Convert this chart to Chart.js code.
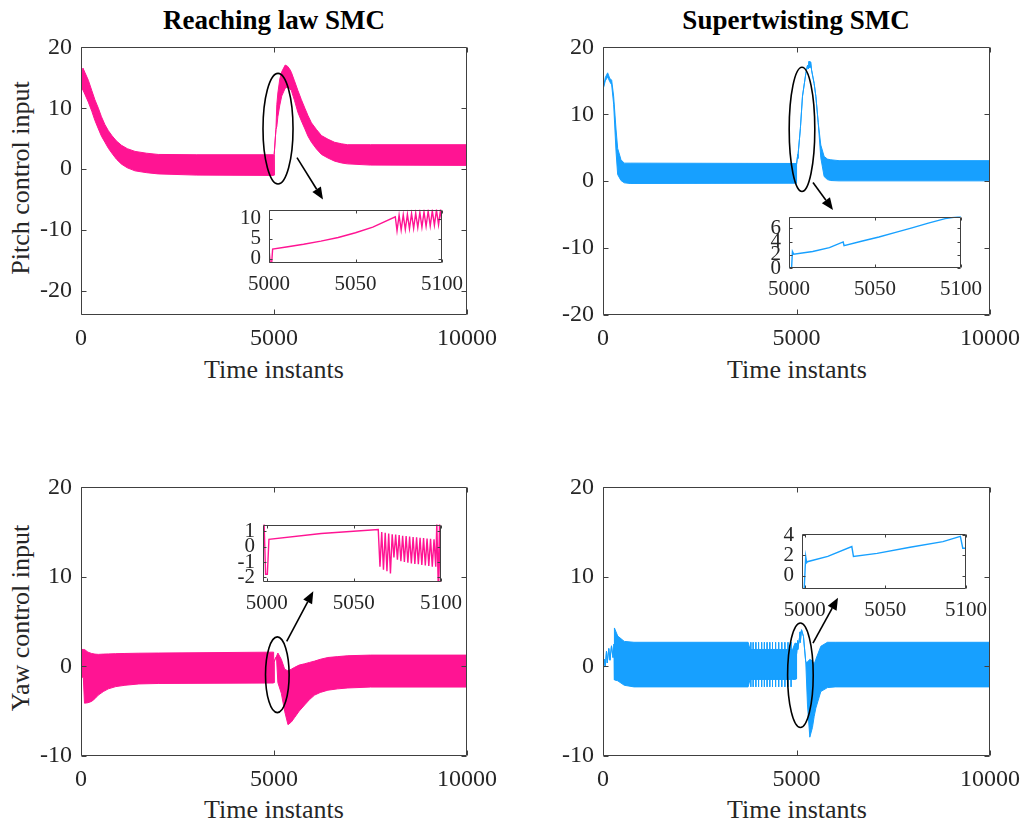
<!DOCTYPE html>
<html lang="en">
<head>
<meta charset="UTF-8" />
<title>Reaching law SMC vs Supertwisting SMC</title>
<script src="https://cdn.jsdelivr.net/npm/chart.js"></script>
<style>
  html, body { margin: 0; padding: 0; background: #fff; }
  #fig {
    position: relative;
    width: 1030px;
    height: 823px;
    overflow: hidden;
    font-family: 'Liberation Serif', 'Times New Roman', serif;
    color: #262626;
  }
  #fig canvas { position: absolute; }
  .lbl {
    position: absolute;
    transform: translate(-50%, -50%);
    white-space: nowrap;
    font-size: 26px;
    line-height: 1;
  }
  .ttl { font-weight: bold; font-size: 27px; color: #000; }
  .rot { transform: translate(-50%, -50%) rotate(-90deg); }
</style>
</head>
<body>
<div id="fig">
  <div class="lbl ttl" style="left:274px;top:20px">Reaching law SMC</div>
  <div class="lbl ttl" style="left:796px;top:20px">Supertwisting SMC</div>
  <div class="lbl" style="left:274px;top:370px">Time instants</div>
  <div class="lbl" style="left:797px;top:370px">Time instants</div>
  <div class="lbl" style="left:274px;top:810px">Time instants</div>
  <div class="lbl" style="left:797px;top:810px">Time instants</div>
  <div class="lbl rot" style="left:21px;top:178px">Pitch control input</div>
  <div class="lbl rot" style="left:21px;top:618px">Yaw control input</div>
</div>

<script>
// ---- data ----
// main plots: chattering band given as upper / lower envelope
const rlPitchT  = [0, 50, 100, 190, 280, 360, 450, 530, 620, 710, 800, 920, 1050, 1200, 1400, 1700, 2000, 3000, 4990, 5000, 5005, 5050, 5073, 5100, 5150, 5200, 5290, 5350, 5400, 5450, 5530, 5620, 5710, 5800, 5880, 5970, 6100, 6230, 6400, 6570, 6750, 6900, 7500, 10000];
const rlPitchHi = [15.0, 16.6, 15.9, 14.6, 12.9, 11.4, 10.0, 8.6, 7.3, 6.3, 5.5, 4.6, 3.9, 3.35, 2.9, 2.6, 2.4, 2.35, 2.35, -1.0, 2.4, 6.5, 10.6, 12.5, 14.8, 16.0, 17.1, 16.9, 16.5, 15.9, 14.5, 12.9, 11.4, 10.0, 8.8, 7.6, 6.5, 5.5, 4.9, 4.4, 4.15, 4.0, 4.0, 4.0];
const rlPitchLo = [13.3, 13.0, 12.3, 11.0, 9.5, 8.0, 6.6, 5.4, 4.4, 3.4, 2.6, 1.6, 0.8, 0.2, -0.3, -0.6, -0.8, -1.0, -1.05, -1.0, 2.4, 6.5, 7.0, 8.6, 10.5, 12.0, 13.3, 13.5, 13.3, 12.9, 11.3, 9.3, 7.9, 6.6, 5.4, 4.4, 3.3, 2.4, 1.8, 1.3, 1.0, 0.85, 0.65, 0.6];

const stPitchT  = [0, 60, 120, 172, 224, 275, 336, 379, 465, 550, 700, 4990, 5000, 5002, 5031, 5032, 5100, 5155, 5241, 5284, 5305, 5325, 5345, 5365, 5390, 5413, 5456, 5500, 5560, 5628, 5714, 5800, 5886, 6100, 10000];
const stPitchHi = [13.7, 15.5, 16.2, 15.4, 15.1, 12.7, 7.8, 4.9, 3.2, 2.7, 2.7, 2.65, 0, 2.5, 3.95, 3.4, 7.85, 12.7, 16.1, 17.3, 16.8, 17.9, 17.0, 17.8, 16.6, 15.9, 14.6, 12.7, 8.8, 5.4, 3.7, 3.3, 3.2, 3.07, 3.07];
const stPitchLo = [13.7, 15.0, 15.6, 14.9, 14.4, 11.5, 4.5, 1.0, 0.1, -0.24, -0.34, -0.3, 0, 2.5, 3.95, 3.4, 7.85, 12.7, 16.1, 17.3, 16.8, 17.9, 17.0, 17.8, 16.6, 15.9, 14.6, 12.7, 8.8, 3.5, 0.7, 0.24, 0.1, 0.05, 0.05];

const rlYawT  = [0, 60, 90, 180, 276, 360, 448, 580, 707, 900, 1138, 1500, 2000, 4990, 5000, 5002, 5031, 5064, 5100, 5190, 5276, 5362, 5450, 5534, 5650, 5793, 5920, 6051, 6200, 6396, 6650, 6913, 7500, 10000];
const rlYawHi = [1.9, 1.9, 1.9, 1.6, 1.45, 1.38, 1.35, 1.38, 1.4, 1.43, 1.45, 1.48, 1.5, 1.6, -1.8, 0.47, 0.85, 1.11, 1.5, 0.8, -0.3, -0.5, -0.3, -0.1, 0.15, 0.3, 0.45, 0.6, 0.8, 1.0, 1.1, 1.2, 1.27, 1.27];
const rlYawLo = [-1.2, -1.2, -4.1, -4.05, -3.9, -3.6, -3.2, -2.8, -2.5, -2.25, -2.1, -1.95, -1.9, -1.85, -1.8, 0.47, 0.85, 1.11, -1.8, -3.0, -5.0, -6.5, -6.2, -5.7, -5.0, -4.3, -3.7, -3.2, -2.9, -2.65, -2.5, -2.4, -2.3, -2.3];

const stYawT  = [0, 10, 40, 60, 90, 110, 150, 180, 220, 260, 285, 295, 380, 550, 800, 3750, 3800, 4900, 4960, 4990, 5000, 5001, 5002, 5029, 5030, 5065, 5096, 5098, 5130, 5180, 5240, 5284, 5344, 5413, 5456, 5500, 5628, 5800, 6000, 10000];
const stYawHi = [6.2, -0.3, 0.8, 0.0, 1.7, 0.4, 2.0, 0.7, 2.3, 1.0, 2.5, 4.3, 3.4, 2.8, 2.7, 2.7, 1.9, 1.9, 2.6, 2.6, -1.3, 1.9, 1.38, 2.87, 1.9, 2.8, 3.86, 2.7, 4.1, 3.35, 0.44, 0.5, 0.8, 0.6, 0.25, 0.8, 2.25, 2.7, 2.7, 2.7];
const stYawLo = [6.2, -0.3, 0.8, 0.0, 1.7, 0.4, 2.0, 0.7, 2.3, 1.0, 2.5, -1.5, -1.6, -2.1, -2.28, -2.28, -1.45, -1.45, -1.45, -1.4, -1.3, 1.9, 1.38, 2.87, 1.9, 2.8, 3.86, 2.7, 4.1, 3.35, 0.44, -4.3, -7.9, -6.8, -5.6, -4.65, -2.8, -2.36, -2.28, -2.28];
// isolated full-height spikes in the supertwisting yaw band
const stYawSpikeT = [3820, 3880, 3950, 4020, 4100, 4170, 4240, 4310, 4380, 4460, 4540, 4620, 4700, 4780, 4860];
const stYawSpikeHi = 2.7;
const stYawSpikeLo = -2.28;

// zoomed insets (5000..5100)
const rlPitchZoomT = [5000, 5000.8, 5001.5, 5002.1, 5010, 5020, 5030, 5040, 5050, 5060, 5073, 5074, 5075.2, 5076.4, 5077.6, 5078.8, 5080, 5081.2, 5082.4, 5083.6, 5084.8, 5086, 5087.2, 5088.4, 5089.6, 5090.8, 5092, 5093.2, 5094.4, 5095.6, 5096.8, 5098, 5099.2, 5100];
const rlPitchZoomV = [2.5, -1.5, -1.5, 2.4, 2.9, 3.6, 4.4, 5.3, 6.5, 7.9, 10.5, 7.0, 10.9, 7.2, 11.0, 7.3, 11.1, 7.5, 11.3, 7.6, 11.4, 7.8, 11.6, 7.9, 11.7, 8.1, 11.9, 8.2, 12.0, 8.4, 12.2, 8.5, 12.4, 8.6];

const stPitchZoomT = [5000, 5001.5, 5002, 5002.7, 5013.8, 5023.5, 5031.5, 5032, 5042.7, 5052.3, 5062, 5071.5, 5081, 5090.8, 5100];
const stPitchZoomV = [0, 0, 2.5, 2.1, 2.5, 3.1, 3.95, 3.4, 4.1, 4.7, 5.4, 6.1, 6.8, 7.5, 7.85];

const rlYawZoomT = [4998.5, 4999.4, 5000.4, 5001.3, 5031.3, 5064, 5065, 5066, 5067, 5068, 5069, 5070, 5071, 5072, 5073, 5074, 5075, 5076, 5077, 5078, 5079, 5080, 5081, 5082, 5083, 5084, 5085, 5086, 5087, 5088, 5089, 5090, 5091, 5092, 5093, 5094, 5095, 5096, 5097, 5097.6, 5098.4, 5099.2, 5099.6];
const rlYawZoomV = [1.6, -1.8, -1.8, 0.47, 0.85, 1.11, -1.3, 0.95, -1.5, 0.9, -1.6, 0.85, -1.75, 0.8, -0.7, 0.78, -0.85, 0.75, -0.95, 0.7, -1.0, 0.68, -1.05, 0.65, -1.1, 0.62, -1.12, 0.6, -1.15, 0.57, -1.2, 0.55, -1.22, 0.52, -1.25, 0.5, -1.3, 0.48, -1.3, 1.6, -2.5, 1.6, -2.5];

const stYawZoomT = [4998.8, 4999.6, 5000.6, 5001.2, 5001.6, 5014.3, 5029.2, 5030.2, 5044.9, 5065.3, 5085.7, 5096.5, 5098, 5099.6];
const stYawZoomV = [-1.5, -1.5, 1.9, 1.3, 1.38, 1.9, 2.87, 1.9, 2.2, 2.8, 3.35, 3.86, 2.7, 2.7];

// tick values
const mainXTicks = [0, 5000, 10000];
const pitchYTicks = [-20, -10, 0, 10, 20];
const yawYTicks = [-10, 0, 10, 20];
const zoomXTicks = [5000, 5050, 5100];
const rlPitchZoomYTicks = [0, 5, 10];
const stPitchZoomYTicks = [0, 2, 4, 6];
const rlYawZoomYTicks = [-2, -1, 0, 1];
const stYawZoomYTicks = [0, 2, 4];

const PINK = '#ff1493';
const BLUE = '#17a0ff';
const SERIF = '"Liberation Serif", "Times New Roman", serif';

Chart.defaults.font.family = SERIF;
Chart.defaults.color = '#262626';

const fig = document.getElementById('fig');
const pts = (xs, ys) => xs.map((x, i) => ({ x: x, y: ys[i] }));
const charts = [];

// box with inward ticks on all four sides, like MATLAB axes
const matBox = {
  id: 'matBox',
  beforeDatasetsDraw(chart, args, o) {
    if (!o.bg) return;
    const a = chart.chartArea, ctx = chart.ctx;
    ctx.save();
    ctx.fillStyle = '#fff';
    ctx.fillRect(a.left, a.top, a.right - a.left, a.bottom - a.top);
    ctx.restore();
  },
  afterDatasetsDraw(chart, args, o) {
    const { ctx, chartArea: a, scales: { x, y } } = chart;
    const L = Math.round(a.left) + 0.5, R = Math.round(a.right) - 0.5;
    const T = Math.round(a.top) + 0.5, B = Math.round(a.bottom) - 0.5;
    ctx.save();
    ctx.strokeStyle = '#404040';
    ctx.lineWidth = 1;
    ctx.beginPath();
    ctx.rect(L, T, R - L, B - T);
    x.ticks.forEach(t => {
      const p = Math.round(x.getPixelForValue(t.value)) + 0.5;
      if (p < L - 1 || p > R + 1) return;
      ctx.moveTo(p, B); ctx.lineTo(p, B - o.len);
      ctx.moveTo(p, T); ctx.lineTo(p, T + o.len);
    });
    y.ticks.forEach(t => {
      const p = Math.round(y.getPixelForValue(t.value)) + 0.5;
      if (p < T - 1 || p > B + 1) return;
      ctx.moveTo(L, p); ctx.lineTo(L + o.len, p);
      ctx.moveTo(R, p); ctx.lineTo(R - o.len, p);
    });
    ctx.stroke();
    ctx.restore();
  }
};

// ellipse around the zoomed region and arrow to the inset
const callout = {
  id: 'callout',
  afterDraw(chart, args, o) {
    if (!o || !o.ellipse) return;
    const { ctx, scales: { x, y } } = chart;
    const e = o.ellipse, ar = o.arrow;
    const cx = x.getPixelForValue(e.x), cy = y.getPixelForValue(e.y);
    const rx = Math.abs(x.getPixelForValue(e.x + e.rx) - cx);
    const ry = Math.abs(y.getPixelForValue(e.y + e.ry) - cy);
    ctx.save();
    ctx.strokeStyle = '#000';
    ctx.fillStyle = '#000';
    ctx.lineWidth = 1.6;
    ctx.beginPath();
    ctx.ellipse(cx, cy, rx, ry, 0, 0, Math.PI * 2);
    ctx.stroke();
    const x1 = x.getPixelForValue(ar.x1), y1 = y.getPixelForValue(ar.y1);
    const x2 = x.getPixelForValue(ar.x2), y2 = y.getPixelForValue(ar.y2);
    const ang = Math.atan2(y2 - y1, x2 - x1);
    const hl = 12, hw = 5;
    const bx = x2 - hl * Math.cos(ang), by = y2 - hl * Math.sin(ang);
    ctx.beginPath();
    ctx.moveTo(x1, y1);
    ctx.lineTo(bx, by);
    ctx.stroke();
    ctx.beginPath();
    ctx.moveTo(x2, y2);
    ctx.lineTo(bx + hw * Math.sin(ang), by - hw * Math.cos(ang));
    ctx.lineTo(bx - hw * Math.sin(ang), by + hw * Math.cos(ang));
    ctx.closePath();
    ctx.fill();
    ctx.restore();
  }
};

function makeChart(box, cfg) {
  const pad = cfg.pad;
  const w = box.r - box.l + pad.l + pad.r;
  const h = box.b - box.t + pad.t + pad.b;
  const cv = document.createElement('canvas');
  cv.width = w; cv.height = h;
  cv.style.width = w + 'px'; cv.style.height = h + 'px';
  cv.style.left = (box.l - pad.l) + 'px';
  cv.style.top = (box.t - pad.t) + 'px';
  fig.appendChild(cv);

  const tickFont = { family: SERIF, size: cfg.fontSize, weight: 'normal', lineHeight: 1.2 };
  const c = new Chart(cv, {
    type: 'line',
    data: { datasets: cfg.datasets },
    options: {
      responsive: false,
      animation: false,
      devicePixelRatio: 1,
      events: [],
      layout: { padding: { left: 0, top: pad.t, right: pad.r, bottom: 0 } },
      elements: { point: { radius: 0 }, line: { tension: 0 } },
      plugins: {
        legend: { display: false },
        tooltip: { enabled: false },
        matBox: { len: cfg.tickLen, bg: cfg.bg },
        callout: cfg.callout || {}
      },
      scales: {
        x: {
          type: 'linear',
          min: cfg.xRange[0], max: cfg.xRange[1],
          grid: { display: false, drawTicks: false },
          border: { display: false },
          afterBuildTicks: s => { s.ticks = cfg.xTicks.map(v => ({ value: v })); },
          afterFit: s => { s.height = pad.b; },
          ticks: { font: tickFont, color: '#262626', padding: cfg.xPad, maxRotation: 0, autoSkip: false, callback: v => String(v) }
        },
        y: {
          type: 'linear',
          min: cfg.yRange[0], max: cfg.yRange[1],
          grid: { display: false, drawTicks: false },
          border: { display: false },
          afterBuildTicks: s => { s.ticks = cfg.yTicks.map(v => ({ value: v })); },
          afterFit: s => { s.width = pad.l; },
          ticks: { font: tickFont, color: '#262626', padding: cfg.yPad, autoSkip: false, callback: v => String(v) }
        }
      }
    },
    plugins: [matBox, callout]
  });
  charts.push(c);
  return c;
}

function bandSets(t, hi, lo, color) {
  return [
    { data: pts(t, hi), borderColor: color, borderWidth: 1, fill: false },
    { data: pts(t, lo), borderColor: color, borderWidth: 1, fill: '-1', backgroundColor: color }
  ];
}

const mainPad = { l: 75, t: 15, r: 40, b: 50 };
const zoomPad = { l: 45, t: 12, r: 28, b: 38 };

function mainChart(box, sets, yRange, yTicks, co) {
  return makeChart(box, {
    pad: mainPad, datasets: sets, xRange: [0, 10000], yRange: yRange,
    xTicks: mainXTicks, yTicks: yTicks, fontSize: 24, xPad: 9, yPad: 9, tickLen: 5, bg: false, callout: co
  });
}
function zoomChart(box, t, v, color, xRange, yRange, yTicks) {
  return makeChart(box, {
    pad: zoomPad,
    datasets: [{ data: pts(t, v), borderColor: color, borderWidth: 1.4, fill: false }],
    xRange: xRange, yRange: yRange, xTicks: zoomXTicks, yTicks: yTicks,
    fontSize: 21, xPad: 9, yPad: 8, tickLen: 3, bg: true
  });
}

function build() {
  // Reaching law SMC, pitch
  mainChart({ l: 81, t: 39, r: 467, b: 315 }, bandSets(rlPitchT, rlPitchHi, rlPitchLo, PINK), [-24, 20], pitchYTicks,
    { ellipse: { x: 5104, y: 6.64, rx: 389, ry: 9.09 }, arrow: { x1: 5596, y1: 1.87, x2: 6269, y2: -5.0 } });
  zoomChart({ l: 269, t: 201, r: 444, b: 263 }, rlPitchZoomT, rlPitchZoomV, PINK, [5000, 5100], [-1.1, 12.3], rlPitchZoomYTicks);

  // Supertwisting SMC, pitch
  mainChart({ l: 603, t: 39, r: 990, b: 315 }, bandSets(stPitchT, stPitchHi, stPitchLo, BLUE), [-20, 20], pitchYTicks,
    { ellipse: { x: 5142, y: 7.75, rx: 331, ry: 9.28 }, arrow: { x1: 5426, y1: -0.19, x2: 5943, y2: -4.3 } });
  zoomChart({ l: 789, t: 208, r: 963, b: 268 }, stPitchZoomT, stPitchZoomV, BLUE, [5000, 5100], [0, 7.8], stPitchZoomYTicks);

  // Reaching law SMC, yaw
  mainChart({ l: 81, t: 479, r: 467, b: 756 }, bandSets(rlYawT, rlYawHi, rlYawLo, PINK), [-10, 20], yawYTicks,
    { ellipse: { x: 5086, y: -0.92, rx: 306, ry: 4.23 }, arrow: { x1: 5329, y1: 2.79, x2: 6018, y2: 8.39 } });
  zoomChart({ l: 263, t: 516, r: 443, b: 582 }, rlYawZoomT, rlYawZoomV, PINK, [4997.9, 5100], [-2.3, 1.43], rlYawZoomYTicks);

  // Supertwisting SMC, yaw
  const stYawSpikes = stYawSpikeT.flatMap(t => [{ x: t, y: stYawSpikeHi }, { x: t, y: stYawSpikeLo }, { x: t, y: null }]);
  mainChart({ l: 603, t: 479, r: 990, b: 756 },
    bandSets(stYawT, stYawHi, stYawLo, BLUE).concat([{ data: stYawSpikes, borderColor: BLUE, borderWidth: 1, fill: false, spanGaps: false }]),
    [-10, 20], yawYTicks,
    { ellipse: { x: 5101, y: -0.98, rx: 331, ry: 5.83 }, arrow: { x1: 5426, y1: 2.6, x2: 6072, y2: 7.68 } });
  zoomChart({ l: 802, t: 525, r: 968, b: 589 }, stYawZoomT, stYawZoomV, BLUE, [4998.3, 5100], [-1.3, 4.14], stYawZoomYTicks);
}

build();
// canvas text needs the serif face loaded; redraw once it is
Promise.all([
  document.fonts.load('24px "Liberation Serif"'),
  document.fonts.load('21px "Liberation Serif"')
]).then(() => charts.forEach(c => c.update('none')));
</script>
</body>
</html>
